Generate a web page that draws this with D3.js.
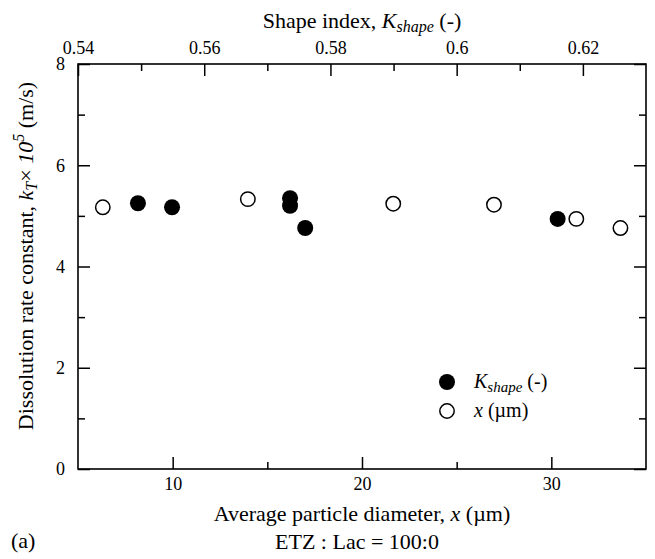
<!DOCTYPE html>
<html>
<head>
<meta charset="utf-8">
<script src="https://cdn.jsdelivr.net/npm/d3@7"></script>
<style>
  html, body { margin: 0; padding: 0; background: #fff; }
  svg text { font-family: "Liberation Serif", "Times New Roman", serif !important; fill: #000; }
</style>
</head>
<body>
<svg id="chart" width="655" height="559"></svg>
<script>
// Data
const kshapeX = [0.5495, 0.5549, 0.5736, 0.5736, 0.5760, 0.6160];
const kshapeY = [5.25, 5.17, 5.35, 5.20, 4.76, 4.94];
const diamX = [6.31, 13.97, 21.65, 26.97, 31.32, 33.65];
const diamY = [5.17, 5.33, 5.24, 5.22, 4.94, 4.76];

const bottomTicks = [10, 20, 30];
const bottomMinor = [15, 25];
const topTicks = [0.54, 0.56, 0.58, 0.60, 0.62];
const topTickLabels = ["0.54", "0.56", "0.58", "0.6", "0.62"];
const topMinor = [0.55, 0.57, 0.59, 0.61];
const yTicks = [0, 2, 4, 6, 8];
const yMinor = [1, 3, 5, 7];

const svg = d3.select("#chart");
const L = 78, R = 646, T = 64, B = 469;
const SERIF = "'Liberation Serif', 'Times New Roman', serif";

const xB = d3.scaleLinear().domain([5, 35]).range([L, R]);
const xT = d3.scaleLinear().domain([0.54, 0.63]).range([L, R]);
const y = d3.scaleLinear().domain([0, 8]).range([B, T]);

const tickFont = 18;
const MAJ = 12, MIN = 7;

// Bottom axis (ticks inward)
svg.append("g").attr("transform", `translate(0,${B})`)
  .call(d3.axisBottom(xB).tickValues(bottomTicks).tickSize(-MAJ).tickPadding(8).tickFormat(d3.format("d")));
svg.append("g").attr("transform", `translate(0,${B})`)
  .call(d3.axisBottom(xB).tickValues(bottomMinor).tickSize(-MIN).tickFormat(""));

// Top axis
svg.append("g").attr("transform", `translate(0,${T})`)
  .call(d3.axisTop(xT).tickValues(topTicks).tickSize(-MAJ).tickPadding(10)
    .tickFormat((d, i) => topTickLabels[i]));
svg.append("g").attr("transform", `translate(0,${T})`)
  .call(d3.axisTop(xT).tickValues(topMinor).tickSize(-MIN).tickFormat(""));

// Left axis
svg.append("g").attr("transform", `translate(${L},0)`)
  .call(d3.axisLeft(y).tickValues(yTicks).tickSize(-MAJ).tickPadding(13).tickFormat(d3.format("d")));
svg.append("g").attr("transform", `translate(${L},0)`)
  .call(d3.axisLeft(y).tickValues(yMinor).tickSize(-MIN).tickFormat(""));

// Right axis
svg.append("g").attr("transform", `translate(${R},0)`)
  .call(d3.axisRight(y).tickValues(yTicks).tickSize(-MAJ).tickFormat(""));
svg.append("g").attr("transform", `translate(${R},0)`)
  .call(d3.axisRight(y).tickValues(yMinor).tickSize(-MIN).tickFormat(""));

svg.selectAll("g").attr("font-family", SERIF);
svg.selectAll(".domain").remove();
svg.selectAll(".tick line").attr("stroke", "#000").attr("stroke-width", 1.5);
svg.selectAll(".tick text").attr("font-size", tickFont).style("font-family", SERIF);

// Frame
svg.append("rect").attr("x", L).attr("y", T).attr("width", R - L).attr("height", B - T)
  .attr("fill", "none").attr("stroke", "#000").attr("stroke-width", 1.6);

// Points: open circles (x in µm)
svg.append("g").selectAll("circle").data(diamX).join("circle")
  .attr("cx", d => xB(d)).attr("cy", (d, i) => y(diamY[i])).attr("r", 7.2)
  .attr("fill", "#fff").attr("stroke", "#000").attr("stroke-width", 1.5);
// filled circles (Kshape)
svg.append("g").selectAll("circle").data(kshapeX).join("circle")
  .attr("cx", d => xT(d)).attr("cy", (d, i) => y(kshapeY[i])).attr("r", 8)
  .attr("fill", "#000");

// Titles
const titleFont = 22, subFont = 16;
const tTop = svg.append("text").attr("x", 362).attr("y", 28).attr("text-anchor", "middle").attr("font-size", titleFont);
tTop.append("tspan").text("Shape index, ");
tTop.append("tspan").attr("font-style", "italic").text("K");
tTop.append("tspan").attr("font-style", "italic").attr("font-size", subFont).attr("dy", 4).text("shape");
tTop.append("tspan").attr("dy", -4).text(" (-)");

const tBot = svg.append("text").attr("x", 362).attr("y", 521).attr("text-anchor", "middle").attr("font-size", titleFont);
tBot.append("tspan").text("Average particle diameter, ");
tBot.append("tspan").attr("font-style", "italic").text("x");
tBot.append("tspan").text(" (\u00b5m)");

svg.append("text").attr("x", 357).attr("y", 549).attr("text-anchor", "middle").attr("font-size", titleFont)
  .text("ETZ : Lac = 100:0");
svg.append("text").attr("x", 11).attr("y", 548).attr("font-size", titleFont).text("(a)");

const tY = svg.append("text").attr("transform", "translate(33,256) rotate(-90)")
  .attr("text-anchor", "middle").attr("font-size", titleFont);
tY.append("tspan").text("Dissolution rate constant, ");
tY.append("tspan").attr("font-style", "italic").text("k");
tY.append("tspan").attr("font-style", "italic").attr("font-size", subFont).attr("dy", 4).text("T");
tY.append("tspan").attr("dy", -4).text("\u00d7 ");
tY.append("tspan").attr("font-style", "italic").text("10");
tY.append("tspan").attr("font-style", "italic").attr("font-size", subFont).attr("dy", -9).text("5");
tY.append("tspan").attr("dy", 9).text(" (m/s)");

// Legend
const legFont = 20;
const legend = svg.append("g");
legend.append("circle").attr("cx", 447).attr("cy", 382).attr("r", 8).attr("fill", "#000");
legend.append("circle").attr("cx", 447).attr("cy", 411).attr("r", 7.2).attr("fill", "#fff")
  .attr("stroke", "#000").attr("stroke-width", 1.5);
const l1 = legend.append("text").attr("x", 474).attr("y", 388).attr("font-size", legFont);
l1.append("tspan").attr("font-style", "italic").text("K");
l1.append("tspan").attr("font-style", "italic").attr("font-size", 15).attr("dy", 4).text("shape");
l1.append("tspan").attr("dy", -4).text(" (-)");
const l2 = legend.append("text").attr("x", 474).attr("y", 417).attr("font-size", legFont);
l2.append("tspan").attr("font-style", "italic").text("x");
l2.append("tspan").text(" (\u00b5m)");
</script>
</body>
</html>
